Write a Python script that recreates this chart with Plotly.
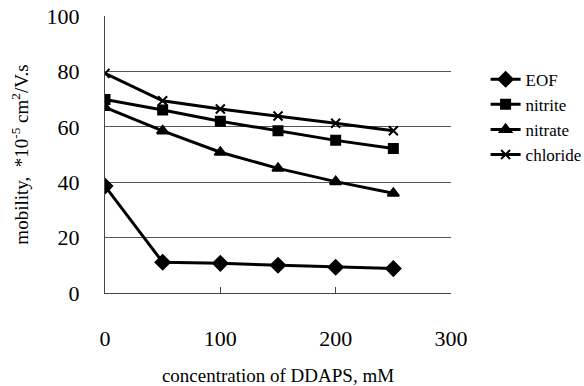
import plotly.graph_objects as go

conc = [0, 50, 100, 150, 200, 250]
eof = [38.6, 11.1, 10.7, 10.0, 9.3, 8.8]
nitrite = [69.9, 66.1, 62.0, 58.6, 55.1, 52.2]
nitrate = [67.0, 58.5, 50.8, 45.0, 40.2, 36.0]
chloride = [79.3, 69.4, 66.4, 63.9, 61.3, 58.6]

series = [
    ("EOF", eof, "diamond", 11),
    ("nitrite", nitrite, "square", 9),
    ("nitrate", nitrate, "triangle-up", 10),
    ("chloride", chloride, "x-thin", 9),
]

font = "Liberation Serif, DejaVu Serif, serif"
fig = go.Figure()
for name, vals, sym, sz in series:
    fig.add_trace(go.Scatter(
        x=conc, y=vals, name=name, mode="lines+markers",
        line=dict(color="black", width=3),
        marker=dict(symbol=sym, size=sz, color="black",
                    line=dict(color="black", width=2)),
    ))

fig.update_layout(
    width=584, height=386,
    margin=dict(l=105, r=133, t=16, b=93, autoexpand=False),
    paper_bgcolor="white", plot_bgcolor="white",
    font=dict(family=font, color="black"),
    showlegend=True,
    legend=dict(x=1.1, y=0.835, xanchor="left", yanchor="top",
                font=dict(size=17, family=font), tracegroupgap=0,
                bgcolor="rgba(0,0,0,0)", itemwidth=30),
    xaxis=dict(
        range=[0, 300], tickvals=[0, 100, 200, 300],
        showgrid=False, zeroline=False, automargin=False,
        showline=True, linecolor="#444", linewidth=1,
        ticks="inside", ticklen=6, tickcolor="#444",
        tickfont=dict(size=22, family=font),
        ticklabelstandoff=26,
        title=dict(text="concentration of DDAPS, mM",
                   font=dict(size=19, family=font), standoff=30),
    ),
    yaxis=dict(
        range=[0, 100], tickvals=[0, 20, 40, 60, 80, 100],
        showgrid=True, gridcolor="#555", gridwidth=1,
        zeroline=False, automargin=False,
        showline=True, linecolor="#444", linewidth=1,
        ticks="", tickfont=dict(size=22, family=font),
        ticklabelstandoff=20,
        title=dict(text="mobility,  *10<sup>-5</sup> cm<sup>2</sup>/V.s",
                   font=dict(size=19, family=font), standoff=12),
    ),
)

fig.write_html("out.html")
